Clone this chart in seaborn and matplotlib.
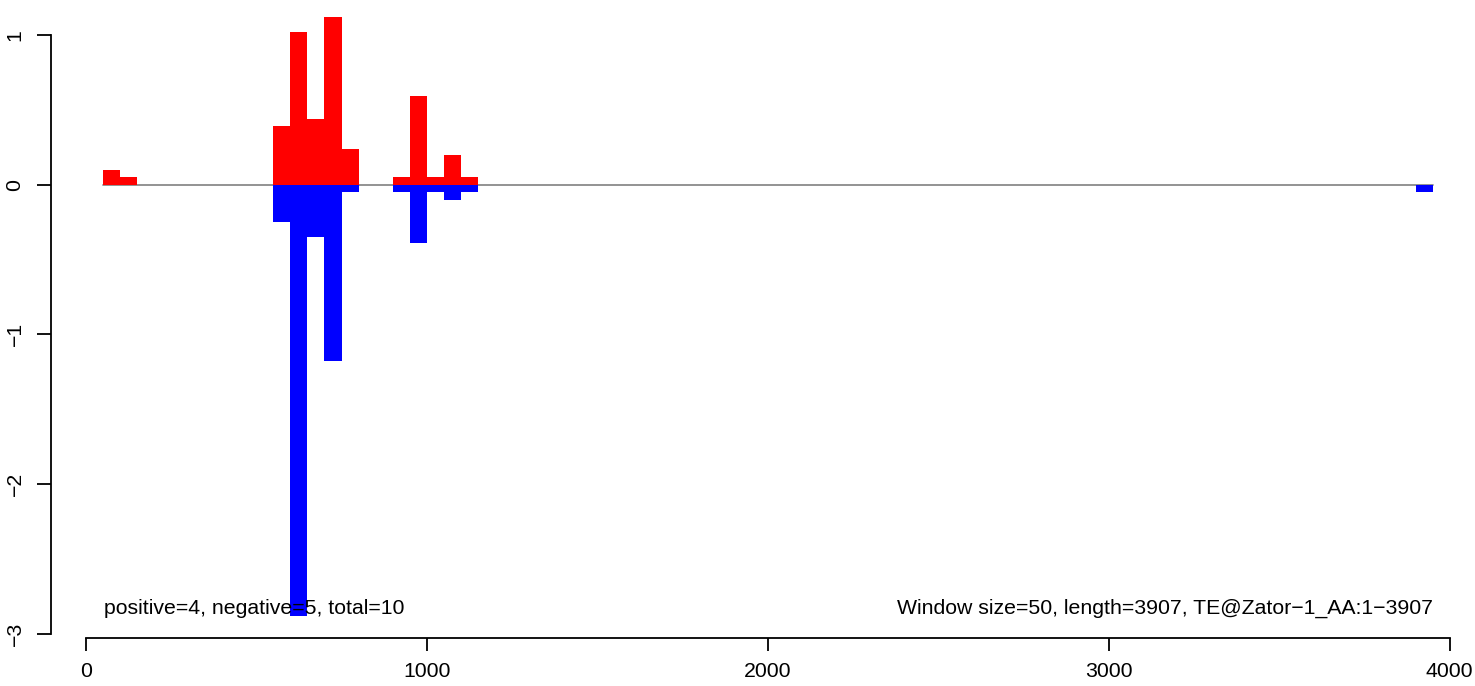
import numpy as np
import pandas as pd
import matplotlib
matplotlib.use("Agg")
import matplotlib.pyplot as plt
import seaborn as sns

# Data: window starts (window size 50) and values
pos_starts = [50, 100, 550, 600, 650, 700, 750, 900, 950, 1000, 1050, 1100]
pos_values = [0.10, 0.05, 0.39, 1.02, 0.44, 1.12, 0.24, 0.05, 0.59, 0.05, 0.20, 0.05]
neg_starts = [550, 600, 650, 700, 750, 900, 950, 1000, 1050, 1100, 3900]
neg_values = [-0.25, -2.88, -0.35, -1.18, -0.05, -0.05, -0.39, -0.05, -0.10, -0.05, -0.05]
window = 50
x_ticks = [0, 1000, 2000, 3000, 4000]
y_ticks = [-3, -2, -1, 0, 1]
left_text = "positive=4, negative=5, total=10"
right_text = "Window size=50, length=3907, TE@Zator\u22121_AA:1\u22123907"

sns.set_theme(style="white")
plt.rcParams["font.family"] = ["Liberation Sans", "DejaVu Sans"]
plt.rcParams["text.color"] = "black"
plt.rcParams["xtick.labelcolor"] = "black"
plt.rcParams["ytick.labelcolor"] = "black"

FS = 15.3
fig = plt.figure(figsize=(14.75, 6.86), dpi=100)
W, H = 1475, 686
ax = fig.add_axes([51 / W, 1 - 638 / H, (1461 - 51) / W, 638 / H])

# zero line
ax.plot([50, 3950], [0, 0], color="#8a8a8a", lw=1.3, zorder=1)

pos_df = pd.DataFrame({"x": np.array(pos_starts) + window / 2, "v": pos_values})
neg_df = pd.DataFrame({"x": np.array(neg_starts) + window / 2, "v": neg_values})

sns.barplot(data=pos_df, x="x", y="v", native_scale=True, width=1.0,
            color="#ff0000", saturation=1, linewidth=0, errorbar=None,
            ax=ax, zorder=2)
sns.barplot(data=neg_df, x="x", y="v", native_scale=True, width=1.0,
            color="#0000ff", saturation=1, linewidth=0, errorbar=None,
            ax=ax, zorder=3)

ax.set_xlim(-102, 4033)
ax.set_ylim(-3.03, 1.235)
ax.set_xlabel("")
ax.set_ylabel("")

for s in ["top", "right"]:
    ax.spines[s].set_visible(False)
for s in ["left", "bottom"]:
    ax.spines[s].set_visible(True)
    ax.spines[s].set_color("black")
    ax.spines[s].set_linewidth(1.3)
ax.spines["left"].set_bounds(-3, 1)
ax.spines["bottom"].set_bounds(0, 4000)

ax.set_xticks(x_ticks)
ax.set_xticklabels([str(t) for t in x_ticks])
ax.set_yticks(y_ticks)
ax.set_yticklabels([f"{t}".replace("-", "\u2212") for t in y_ticks], rotation=90, va="center")
ax.tick_params(axis="x", direction="out", length=9.5, width=1.3, color="black",
               labelsize=FS, labelcolor="black", pad=7.5, bottom=True)
ax.tick_params(axis="y", direction="out", length=10, width=1.3, color="black",
               labelsize=FS, labelcolor="black", pad=9, left=True)
ax.grid(False)

ax.text(53, -2.83, left_text, fontsize=FS, color="black", ha="left", va="center", zorder=5)
ax.text(3950, -2.83, right_text, fontsize=FS, color="black", ha="right", va="center", zorder=5)

fig.savefig("out.png", dpi=100)
